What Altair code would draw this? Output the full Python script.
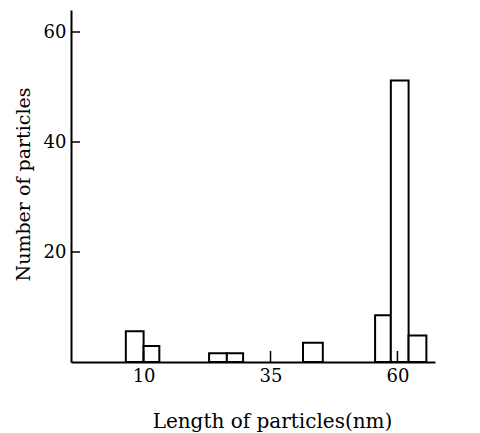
import altair as alt
import pandas as pd

# Histogram bars: left edge, right edge (nm), count
bin_left = [6.5, 10.0, 22.9, 26.4, 41.4, 55.6, 58.7, 62.2]
bin_right = [10.0, 13.1, 26.4, 29.6, 45.3, 58.7, 62.2, 65.7]
counts = [5.6, 2.9, 1.6, 1.6, 3.5, 8.5, 51.2, 4.8]

x_ticks = [10, 35, 60]
y_ticks = [20, 40, 60]

W, H = 364, 352
FONT = "DejaVu Serif"

bars_df = pd.DataFrame({"x0": bin_left, "x1": bin_right, "n": counts, "base": [0] * len(counts)})
xt_df = pd.DataFrame({"x0": x_ticks})
yt_df = pd.DataFrame({"n": y_ticks})

xscale = alt.Scale(domain=[-4.3, 67.4], nice=False, zero=False)
yscale = alt.Scale(domain=[0, 64], nice=False)

xaxis = alt.Axis(values=x_ticks, ticks=False, grid=False, domainColor="black", domainWidth=2,
                 labelFont=FONT, labelFontSize=18, labelColor="black", labelPadding=5,
                 title="Length of particles(nm)", titleFont=FONT, titleFontSize=20,
                 titleFontWeight="normal", titleColor="black",
                 titleX=201, titleY=65, titleBaseline="alphabetic", titleAnchor="middle")
yaxis = alt.Axis(values=y_ticks, ticks=False, grid=False, domainColor="black", domainWidth=2,
                 labelFont=FONT, labelFontSize=18, labelColor="black", labelPadding=5,
                 title="Number of particles", titleFont=FONT, titleFontSize=19,
                 titleFontWeight="normal", titleColor="black",
                 titleX=-42, titleY=174, titleBaseline="alphabetic", titleAngle=270,
                 titleAnchor="middle")

bars = alt.Chart(bars_df).mark_rect(fill="white", stroke="black", strokeWidth=2).encode(
    x=alt.X("x0:Q", scale=xscale, axis=xaxis),
    x2="x1:Q",
    y=alt.Y("n:Q", scale=yscale, axis=yaxis),
    y2="base:Q",
)

xt = alt.Chart(xt_df).mark_rule(color="black", strokeWidth=1.5).encode(
    x=alt.X("x0:Q", scale=xscale, axis=xaxis),
    y=alt.value(H),
    y2=alt.value(H - 11),
)

yt = alt.Chart(yt_df).mark_rule(color="black", strokeWidth=1.5).encode(
    y=alt.Y("n:Q", scale=yscale, axis=yaxis),
    x=alt.value(0),
    x2=alt.value(9),
)

chart = alt.layer(bars, xt, yt).properties(
    width=W, height=H,
    background="white",
    autosize=alt.AutoSizeParams(type="none"),
    padding={"left": 63, "top": 2, "right": 37, "bottom": 70},
).configure_view(stroke=None)

chart.save("out.html", embed_options={"renderer": "svg", "actions": False})
